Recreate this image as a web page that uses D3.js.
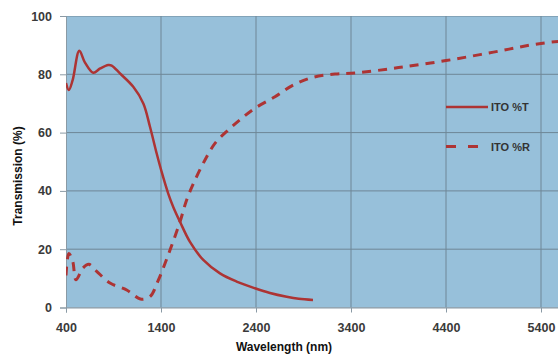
<!DOCTYPE html>
<html>
<head>
<meta charset="utf-8">
<script src="https://cdn.jsdelivr.net/npm/d3@7"></script>
<style>
  body { margin: 0; background: #fff; }
  svg { display: block; }
  text { font-family: "Liberation Sans", Arial, sans-serif; }
</style>
</head>
<body>
<script>
"use strict";

// wavelength (nm) / value (%)
const transWl  = [400, 430, 470, 540, 600, 687, 760, 845, 881, 968, 1108, 1214, 1284, 1354, 1407, 1477, 1530, 1600, 1705, 1845, 2021, 2196, 2389, 2547, 2723, 2850, 3000];
const transVal = [77, 74.6, 78, 88.1, 84, 80.5, 82, 83.2, 83, 80.3, 75.7, 70, 62, 52.9, 46.5, 39, 34.4, 29.4, 22.5, 16.3, 11.7, 8.9, 6.6, 5.0, 3.7, 3.0, 2.6];

const reflWl  = [400, 430, 470, 505, 580, 640, 720, 863, 1039, 1161, 1197, 1284, 1372, 1495, 1600, 1670, 1758, 1863, 1968, 2108, 2228, 2386, 2600, 2793, 3004, 3232, 3460, 3900, 4400, 4900, 5400, 6000];
const reflVal = [11, 18.5, 16, 9.5, 13.6, 14.8, 12.5, 8.4, 6, 3.2, 2.8, 3.7, 9.4, 19.7, 29.4, 36.9, 43.7, 50.6, 56.3, 60.9, 64.3, 68.3, 72.3, 76.3, 79, 80.1, 80.5, 82.3, 84.7, 87.6, 90.6, 92.5];

const xTicks = [400, 1400, 2400, 3400, 4400, 5400, 6400];
const yTicks = [0, 20, 40, 60, 80, 100];

const seriesNames = ["ITO %T", "ITO %R"];

const width = 558, height = 356;
const lineColor = "#ad3434";

const svg = d3.select("body").append("svg")
    .attr("width", width)
    .attr("height", height);

const x = d3.scaleLinear().domain([400, 6400]).range([66, 636]);
const y = d3.scaleLinear().domain([0, 100]).range([307.5, 16]);

const plotRight = width;

svg.append("defs").append("clipPath").attr("id", "plotClip")
    .append("rect")
    .attr("x", x(400)).attr("y", y(100))
    .attr("width", plotRight - x(400)).attr("height", y(0) - y(100));

// plot background
svg.append("rect")
    .attr("x", x(400)).attr("y", y(100))
    .attr("width", plotRight - x(400)).attr("height", y(0) - y(100))
    .attr("fill", "#97c0da");

// grid
const grid = svg.append("g").attr("clip-path", "url(#plotClip)");
grid.selectAll("line.h").data(yTicks).join("line")
    .attr("x1", x(400)).attr("x2", plotRight)
    .attr("y1", d => y(d)).attr("y2", d => y(d))
    .attr("stroke", "#6e8696").attr("stroke-width", 1);
grid.selectAll("line.v").data(xTicks).join("line")
    .attr("x1", d => x(d)).attr("x2", d => x(d))
    .attr("y1", y(100)).attr("y2", y(0))
    .attr("stroke", "#6e8696").attr("stroke-width", 1);

// axes
const yAxis = svg.append("g")
    .attr("transform", `translate(${x(400)},0)`)
    .call(d3.axisLeft(y).tickValues(yTicks).tickSize(6).tickPadding(8));
const xAxis = svg.append("g")
    .attr("transform", `translate(0,${y(0)})`)
    .call(d3.axisBottom(x)
        .tickValues(xTicks.filter(t => x(t) < width))
        .tickFormat(d3.format("d"))
        .tickSize(5).tickPadding(11));

[yAxis, xAxis].forEach(g => {
    g.select(".domain").attr("stroke", "#8a9aa5");
    g.selectAll(".tick line").attr("stroke", "#8a9aa5");
    g.selectAll(".tick text")
        .attr("fill", "#3a3a3a")
        .style("font-size", "12.5px")
        .style("font-weight", "bold");
});

// series
const lineGen = d3.line().curve(d3.curveCatmullRom.alpha(0.5));
const series = svg.append("g").attr("clip-path", "url(#plotClip)");

series.append("path")
    .attr("d", lineGen(transWl.map((w, i) => [x(w), y(transVal[i])])))
    .attr("fill", "none")
    .attr("stroke", lineColor)
    .attr("stroke-width", 2.5);

series.append("path")
    .attr("d", lineGen(reflWl.map((w, i) => [x(w), y(reflVal[i])])))
    .attr("fill", "none")
    .attr("stroke", lineColor)
    .attr("stroke-width", 3)
    .attr("stroke-dasharray", "9,7");

// legend
const legend = svg.append("g");
legend.append("line")
    .attr("x1", 446).attr("x2", 488).attr("y1", 107).attr("y2", 107)
    .attr("stroke", lineColor).attr("stroke-width", 2.5);
legend.append("line")
    .attr("x1", 446).attr("x2", 482).attr("y1", 146.5).attr("y2", 146.5)
    .attr("stroke", lineColor).attr("stroke-width", 3)
    .attr("stroke-dasharray", "10,12");
legend.selectAll("text").data(seriesNames).join("text")
    .attr("x", 491)
    .attr("y", (d, i) => 111 + i * 39.5)
    .attr("fill", "#333")
    .style("font-size", "11px")
    .style("font-weight", "bold")
    .text(d => d);

// axis titles
svg.append("text")
    .attr("transform", "translate(22,176) rotate(-90)")
    .attr("text-anchor", "middle")
    .style("font-size", "12px")
    .style("font-weight", "bold")
    .attr("fill", "#111")
    .text("Transmission (%)");

svg.append("text")
    .attr("x", 284).attr("y", 351)
    .attr("text-anchor", "middle")
    .style("font-size", "12px")
    .style("font-weight", "bold")
    .attr("fill", "#111")
    .text("Wavelength (nm)");
</script>
</body>
</html>
